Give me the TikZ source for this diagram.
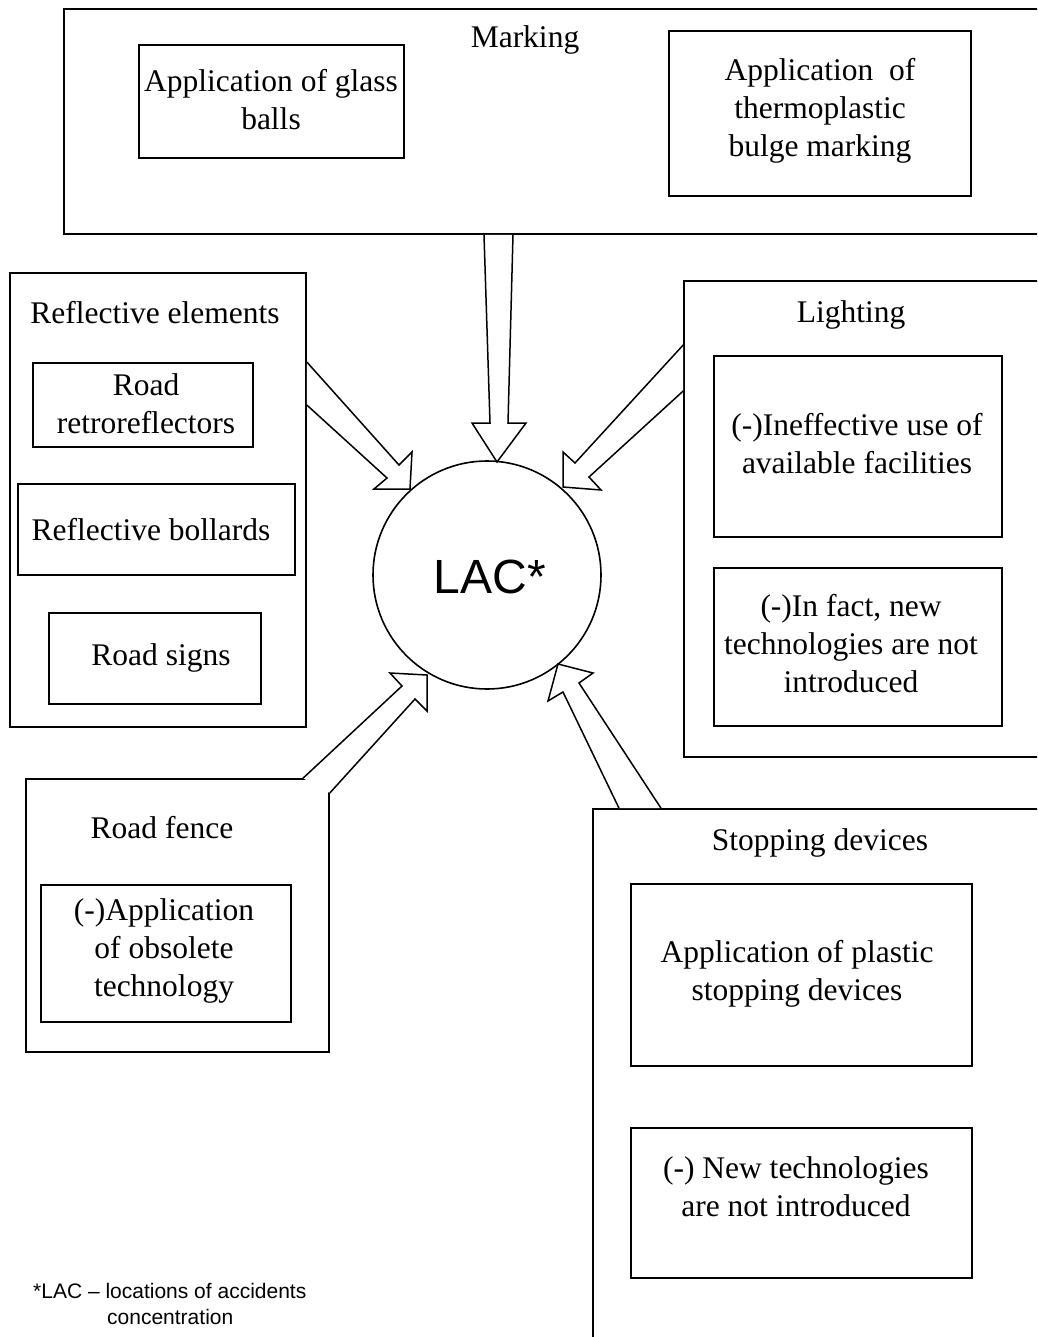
\documentclass[tikz,border=0pt]{standalone}
\usepackage{fontspec}
\setmainfont{Liberation Serif}
\newfontfamily\arialfont[Ligatures=TeX]{Liberation Sans}
\begin{document}
\begin{tikzpicture}[x=1pt,y=-1pt,
  box/.style={draw, line width=1.6pt, inner sep=0pt, rectangle},
  txt/.style={inner sep=0pt, align=center, font=\fontsize{31.5}{38}\selectfont},
  blockarrow/.style={draw, line width=1.5pt, line join=miter, fill=white}]
\useasboundingbox (0,0) rectangle (1037,1337);
\clip (0,0) rectangle (1037,1337);

% ---- Marking ----
\node[box, minimum width=981pt, minimum height=225pt] (mark) at (554.5,121.5) {};
\node[txt] (tmark) at (525,40) {Marking};
\node[box, minimum width=265pt, minimum height=113pt] (glass) at (271.5,101.5) {};
\node[txt] (tglass) at (271,100) {Application of glass\\balls};
\node[box, minimum width=302pt, minimum height=165pt] (thermo) at (820,113.5) {};
\node[txt] (tthermo) at (820,111) {Application\ \ of\\thermoplastic\\bulge marking};

% ---- Reflective elements ----
\node[box, minimum width=296pt, minimum height=454pt] (refl) at (158,500) {};
\node[txt] (trefl) at (155,313) {Reflective elements};
\node[box, minimum width=220pt, minimum height=84pt] (retro) at (143,405) {};
\node[txt] (tretro) at (146,404) {Road\\retroreflectors};
\node[box, minimum width=277pt, minimum height=91pt] (boll) at (156.5,529.5) {};
\node[txt] (tboll) at (151,530) {Reflective bollards};
\node[box, minimum width=212pt, minimum height=91pt] (signs) at (155,658.5) {};
\node[txt] (tsigns) at (161,658) {Road signs};

% ---- Lighting ----
\node[box, minimum width=361pt, minimum height=476pt] (light) at (864.5,519) {};
\node[txt] (tlight) at (851,315) {Lighting};
\node[box, minimum width=288pt, minimum height=181pt] (ineff) at (858,446.5) {};
\node[txt] (tineff) at (857,444) {(-)Ineffective use of\\available facilities};
\node[box, minimum width=288pt, minimum height=158pt] (infact) at (858,647) {};
\node[txt] (tinfact) at (851,644) {(-)In fact, new\\technologies are not\\introduced};

% ---- Road fence ----
\node[box, minimum width=303pt, minimum height=273pt] (fence) at (177.5,915.5) {};
\node[txt] (tfence) at (162,828) {Road fence};
\node[box, minimum width=250pt, minimum height=137pt] (obsol) at (166,953.5) {};
\node[txt] (tobsol) at (164,951) {(-)Application\\of obsolete\\technology};

% ---- Stopping devices ----
\node[box, minimum width=452pt, minimum height=536pt] (stop) at (819,1077) {};
\node[txt] (tstop) at (820,843) {Stopping devices};
\node[box, minimum width=341pt, minimum height=182pt] (plastic) at (801.5,975) {};
\node[txt] (tplastic) at (797,974) {Application of plastic\\stopping devices};
\node[box, minimum width=341pt, minimum height=150pt] (newtech) at (801.5,1203) {};
\node[txt] (tnewtech) at (796,1187) {(-) New technologies\\are not introduced};

% ---- centre ----
\node[draw, circle, line width=1.6pt, minimum size=228pt, inner sep=0pt] (lac) at (487,575) {};
\node[inner sep=0pt, font=\arialfont\fontsize{48}{56}\selectfont] (tlac) at (490,577) {LAC*};

% ---- block arrows ----
\draw[blockarrow] (mark.south -| 484,0) -- (490,423) -- (472,423) -- (497,462) -- (526,423) -- (508,423) -- (mark.south -| 513,0);
\draw[blockarrow] (refl.east |- 0,362) -- (399,465) -- (412,452) -- (410,489) -- (374,489) -- (387,478) -- (refl.east |- 0,405);
\draw[blockarrow] (light.west |- 0,345) -- (575,463) -- (563,452) -- (563,487) -- (601,490) -- (589,477) -- (light.west |- 0,391);
\draw[blockarrow] (fence.north -| 303,0) -- (402,686) -- (390,673) -- (427,675) -- (427,711) -- (415,699) -- (fence.east |- 0,793);
\draw[blockarrow] (stop.north -| 619,0) -- (563,692) -- (548,701) -- (558,664) -- (593,673) -- (579,683) -- (stop.north -| 661,0);

% ---- footnote ----
\node[inner sep=0pt, anchor=north west, align=left, font=\arialfont\fontsize{21}{26}\selectfont] (foot) at (33,1283) {*LAC – locations of accidents\\\hspace*{74pt}concentration};
\end{tikzpicture}
\end{document}
